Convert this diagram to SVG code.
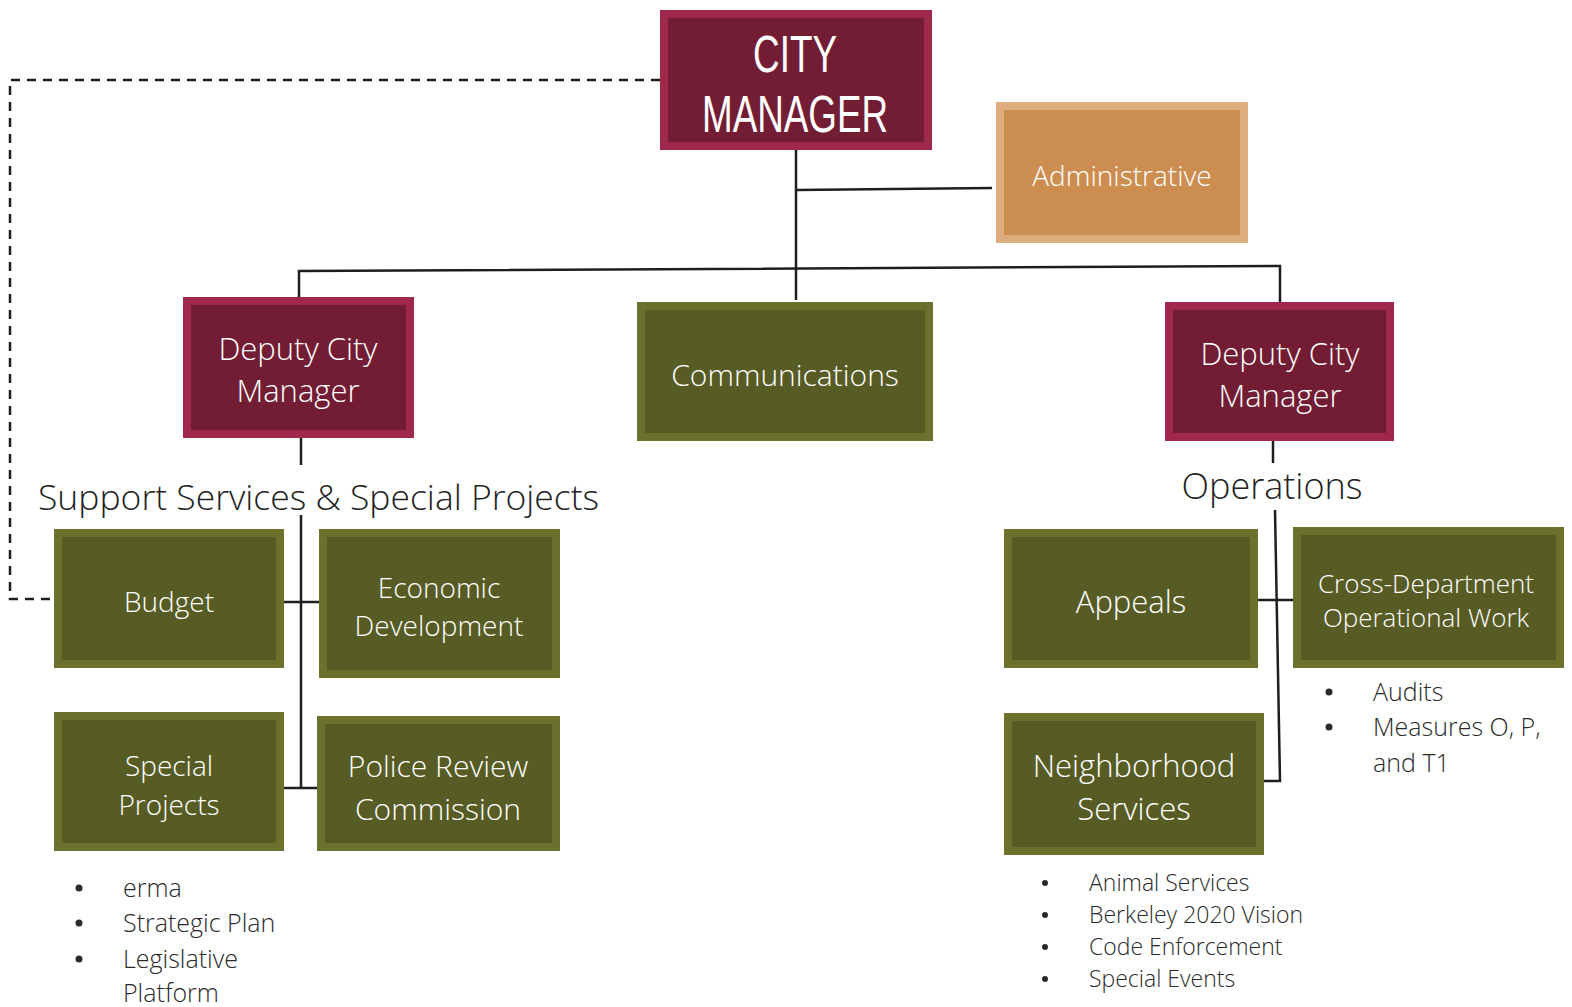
<svg xmlns="http://www.w3.org/2000/svg" width="1572" height="1007" viewBox="0 0 1572 1007">
<style>
.maroon{fill:#731D35;stroke:#A0284A;stroke-width:8}
.olive{fill:#575C25;stroke:#6B712D;stroke-width:8}
.tan{fill:#CC8E50;stroke:#DDAD7E;stroke-width:8}
.bt{font-family:"Open Sans","Noto Sans",sans-serif;font-weight:300;fill:#FFFFFF;text-anchor:middle;dominant-baseline:central}
.cm{font-family:"Liberation Sans",Arial,sans-serif;font-weight:400;fill:#FFFFFF;text-anchor:middle;font-size:51px}
.hd{font-family:"Open Sans","Noto Sans",sans-serif;font-weight:300;fill:#222222;dominant-baseline:central}
.li{font-family:"Open Sans","Noto Sans",sans-serif;font-weight:300;fill:#2A2A2A;dominant-baseline:central}
.dot{fill:#2A2A2A}
.ln{fill:none;stroke:#1E1E1E;stroke-width:2.5}
.dash{fill:none;stroke:#1E1E1E;stroke-width:2.5;stroke-dasharray:9 7}
</style>
<rect width="1572" height="1007" fill="#FFFFFF"/>
<g id="connectors">
<path class="dash" d="M660 80 H10 V599 H57"/>
<path class="ln" d="M796 150 V300"/>
<path class="ln" d="M796 190 L992 188"/>
<path class="ln" d="M299 298 V271 L1280 266 V302"/>
<path class="ln" d="M301 438 V465"/>
<path class="ln" d="M301 515 V788"/>
<path class="ln" d="M284 602 H319"/>
<path class="ln" d="M284 788 H317"/>
<path class="ln" d="M1273 441 V463"/>
<path class="ln" d="M1275 510 L1280 781 H1264"/>
<path class="ln" d="M1258 600 H1293"/>
</g>
<g id="city-manager">
<rect class="maroon" x="664" y="14" width="264" height="132"/>
<text class="cm" x="795" y="72" textLength="84" lengthAdjust="spacingAndGlyphs">CITY</text>
<text class="cm" x="795" y="132" textLength="186" lengthAdjust="spacingAndGlyphs">MANAGER</text>
</g>
<g id="administrative">
<rect class="tan" x="1000" y="106" width="244" height="133"/>
<text class="bt" x="1122" y="175" font-size="28">Administrative</text>
</g>
<g id="deputy-left">
<rect class="maroon" x="187" y="301" width="223" height="133"/>
<text class="bt" x="298" y="348" font-size="31">Deputy City</text>
<text class="bt" x="298" y="390" font-size="31">Manager</text>
</g>
<g id="communications">
<rect class="olive" x="641" y="306" width="288" height="131"/>
<text class="bt" x="785" y="374" font-size="30">Communications</text>
</g>
<g id="deputy-right">
<rect class="maroon" x="1169" y="306" width="221" height="131"/>
<text class="bt" x="1280" y="353" font-size="31">Deputy City</text>
<text class="bt" x="1280" y="395" font-size="31">Manager</text>
</g>
<g id="support-heading">
<text class="hd" x="38" y="496" font-size="35.5">Support Services &amp; Special Projects</text>
</g>
<g id="operations-heading">
<text class="hd" x="1272" y="485" font-size="36" text-anchor="middle">Operations</text>
</g>
<g id="budget">
<rect class="olive" x="58" y="533" width="222" height="131"/>
<text class="bt" x="169" y="601" font-size="28">Budget</text>
</g>
<g id="economic-development">
<rect class="olive" x="323" y="533" width="233" height="141"/>
<text class="bt" x="439" y="587" font-size="28">Economic</text>
<text class="bt" x="439" y="625" font-size="28">Development</text>
</g>
<g id="special-projects">
<rect class="olive" x="58" y="716" width="222" height="131"/>
<text class="bt" x="169" y="765" font-size="28">Special</text>
<text class="bt" x="169" y="804" font-size="28">Projects</text>
</g>
<g id="police-review">
<rect class="olive" x="321" y="720" width="235" height="127"/>
<text class="bt" x="438" y="765" font-size="30">Police Review</text>
<text class="bt" x="438" y="808" font-size="30">Commission</text>
</g>
<g id="special-projects-list">
<circle class="dot" cx="79" cy="888" r="3.5"/>
<text class="li" x="123" y="887" font-size="25">erma</text>
<circle class="dot" cx="79" cy="923" r="3.5"/>
<text class="li" x="123" y="922" font-size="25">Strategic Plan</text>
<circle class="dot" cx="79" cy="959" r="3.5"/>
<text class="li" x="123" y="958" font-size="25">Legislative</text>
<text class="li" x="123" y="992" font-size="25">Platform</text>
</g>
<g id="appeals">
<rect class="olive" x="1008" y="533" width="246" height="131"/>
<text class="bt" x="1131" y="601" font-size="31">Appeals</text>
</g>
<g id="cross-department">
<rect class="olive" x="1297" y="531" width="263" height="133"/>
<text class="bt" x="1426" y="583" font-size="26">Cross-Department</text>
<text class="bt" x="1426" y="617" font-size="26">Operational Work</text>
</g>
<g id="cross-department-list">
<circle class="dot" cx="1329" cy="692" r="3.5"/>
<text class="li" x="1373" y="691" font-size="25">Audits</text>
<circle class="dot" cx="1329" cy="727" r="3.5"/>
<text class="li" x="1373" y="726" font-size="25">Measures O, P,</text>
<text class="li" x="1373" y="762" font-size="25">and T1</text>
</g>
<g id="neighborhood-services">
<rect class="olive" x="1008" y="717" width="252" height="134"/>
<text class="bt" x="1134" y="765" font-size="31">Neighborhood</text>
<text class="bt" x="1134" y="808" font-size="31">Services</text>
</g>
<g id="neighborhood-list">
<circle class="dot" cx="1045" cy="883" r="3"/>
<text class="li" x="1089" y="882" font-size="23">Animal Services</text>
<circle class="dot" cx="1045" cy="915" r="3"/>
<text class="li" x="1089" y="914" font-size="23">Berkeley 2020 Vision</text>
<circle class="dot" cx="1045" cy="947" r="3"/>
<text class="li" x="1089" y="946" font-size="23">Code Enforcement</text>
<circle class="dot" cx="1045" cy="979" r="3"/>
<text class="li" x="1089" y="978" font-size="23">Special Events</text>
</g>
</svg>
